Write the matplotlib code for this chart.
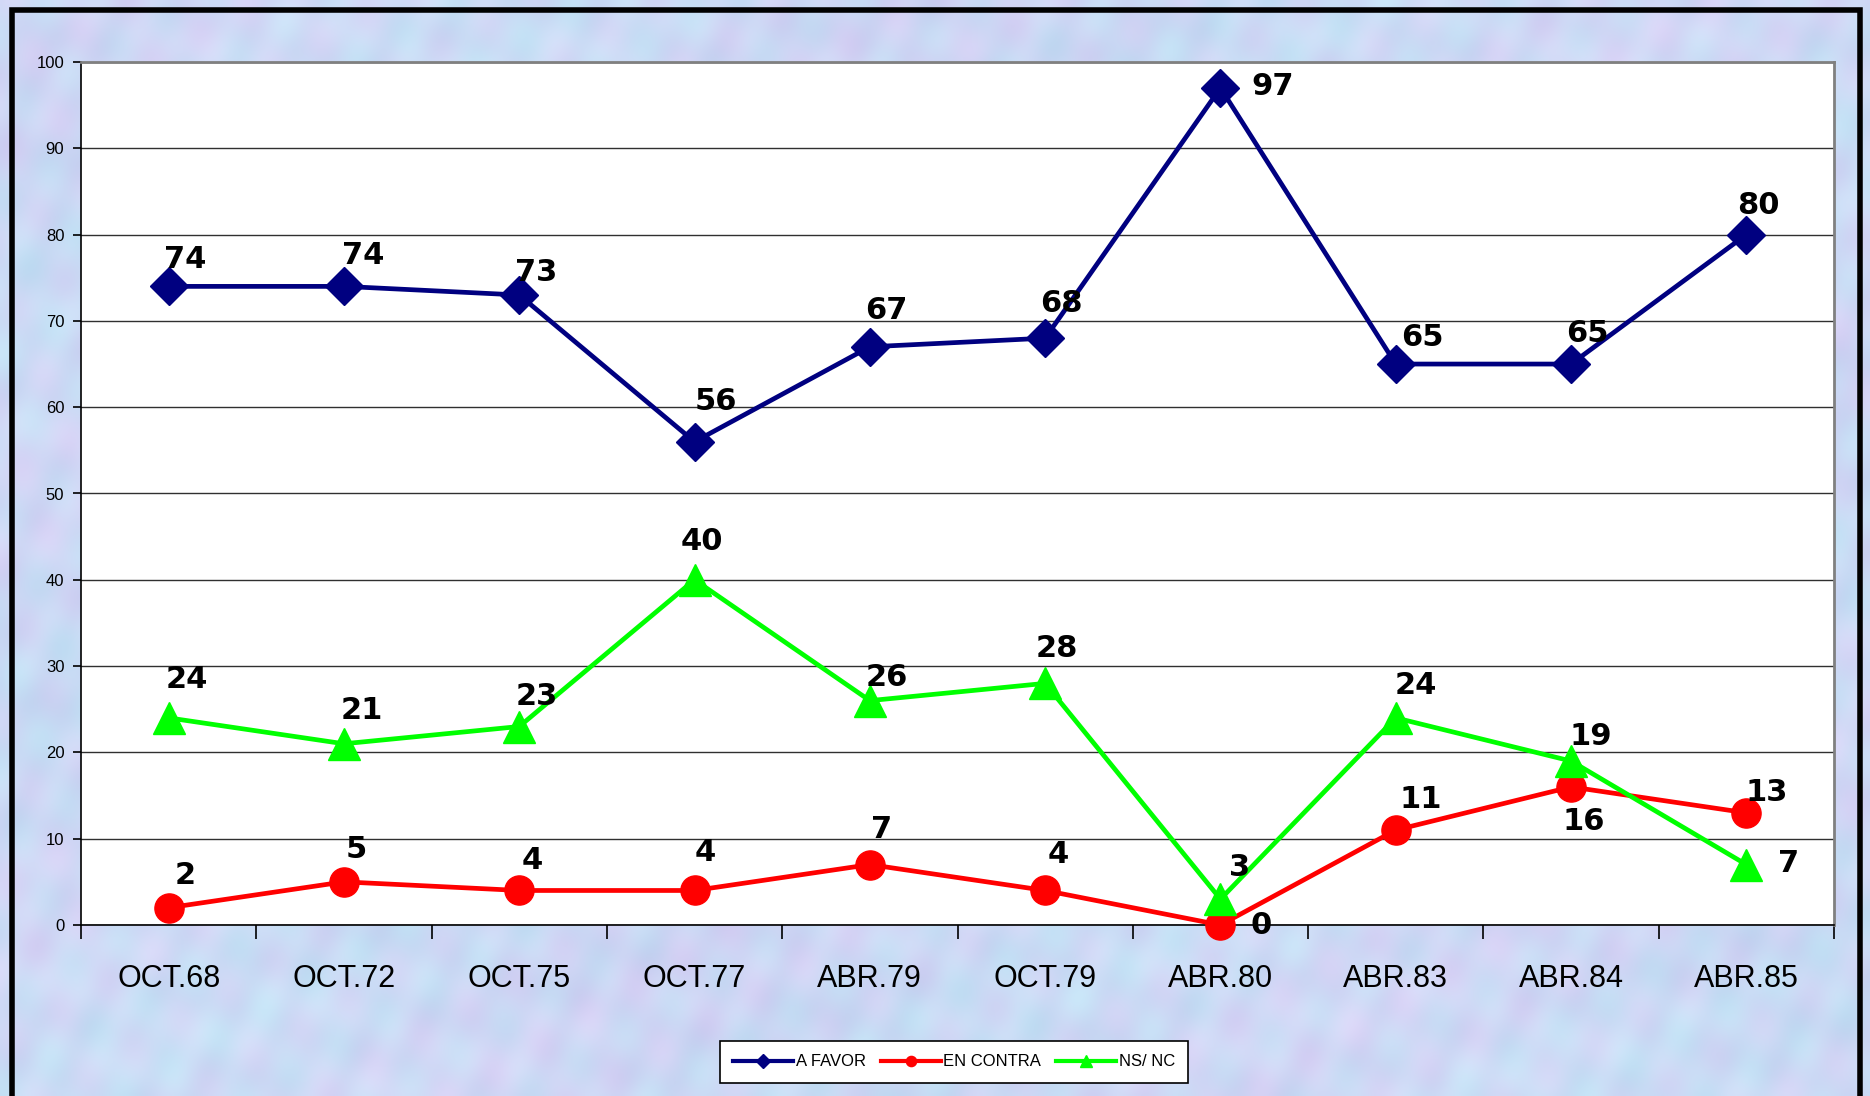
import numpy as np
import matplotlib
matplotlib.use("Agg")
import matplotlib.pyplot as plt
from matplotlib.patches import Rectangle

categories = ["OCT.68", "OCT.72", "OCT.75", "OCT.77", "ABR.79", "OCT.79",
              "ABR.80", "ABR.83", "ABR.84", "ABR.85"]
a_favor = [74, 74, 73, 56, 67, 68, 97, 65, 65, 80]
en_contra = [2, 5, 4, 4, 7, 4, 0, 11, 16, 13]
ns_nc = [24, 21, 23, 40, 26, 28, 3, 24, 19, 7]
series_names = ["A FAVOR", "EN CONTRA", "NS/ NC"]
y_ticks = [0, 10, 20, 30, 40, 50, 60, 70, 80, 90, 100]

# label offsets in pixels (dx, dy upward positive)
off_favor = [(17, 27), (19, 31), (17, 23), (21, 40), (16, 36), (16, 35), (52, 1), (27, 27), (16, 31), (12, 29)]
off_contra = [(17, 32), (12, 32), (13, 30), (11, 38), (12, 35), (13, 36), (41, 0), (25, 31), (13, -35), (20, 20)]
off_ns = [(18, 38), (18, 33), (17, 30), (7, 38), (17, 23), (12, 35), (19, 32), (20, 32), (20, 25), (42, 1)]

plt.rcParams['font.family'] = ['Liberation Sans', 'DejaVu Sans']

W, H = 1870, 1096
fig = plt.figure(figsize=(W / 100, H / 100), dpi=100)

# mottled light-blue background texture (deterministic)
bg = fig.add_axes([0, 0, 1, 1], zorder=-10)
yy, xx = np.mgrid[0:H // 4, 0:W // 4].astype(float)
t = (np.sin(xx * 0.37 + yy * 0.11) + np.sin(xx * 0.13 - yy * 0.41) +
     np.sin(xx * 0.071 + yy * 0.23 + 1.3) + np.sin(xx * 0.53 + yy * 0.29 + 0.7) +
     np.sin(xx * 0.021 - yy * 0.047)) / 5.0
t2 = (np.sin(xx * 0.19 + yy * 0.31 + 2.1) + np.sin(xx * 0.43 - yy * 0.17 + 0.4) +
      np.sin(xx * 0.033 + yy * 0.061)) / 3.0
base = np.array([0.80, 0.85, 0.96])
img = np.empty(t.shape + (3,))
img[..., 0] = base[0] + 0.035 * t + 0.035 * t2
img[..., 1] = base[1] + 0.035 * t - 0.03 * t2
img[..., 2] = base[2] + 0.02 * t
img = np.clip(img, 0, 1)
bg.imshow(img, aspect='auto', interpolation='bilinear', extent=[0, 1, 0, 1])
bg.set_axis_off()

# black frame
fig.patches.append(Rectangle((12 / W, -0.05), (1860 - 12) / W, 1.05 - 10 / H,
                             transform=fig.transFigure, fill=False,
                             edgecolor='black', linewidth=4, zorder=5))

left, right, top, bottom = 81, 1834, 62, 925
ax = fig.add_axes([left / W, (H - bottom) / H, (right - left) / W, (bottom - top) / H])
ax.set_facecolor('white')

x = np.arange(len(categories))
l1, = ax.plot(x, a_favor, color='#000080', lw=3.4, marker='D', ms=19, zorder=3, clip_on=False)
l2, = ax.plot(x, en_contra, color='#FF0000', lw=3.4, marker='o', ms=21, zorder=4, clip_on=False)
l3, = ax.plot(x, ns_nc, color='#00FF00', lw=3.4, marker='^', ms=23, zorder=5, clip_on=False)

for vals, offs in ((a_favor, off_favor), (en_contra, off_contra), (ns_nc, off_ns)):
    for xi, v, (dx, dy) in zip(x, vals, offs):
        ax.annotate(str(v), (xi, v), xytext=(dx, dy), textcoords='offset pixels',
                    ha='center', va='center', fontsize=22, fontweight='bold',
                    family=['DejaVu Sans'], color='black', zorder=10,
                    annotation_clip=False)

ax.set_xlim(-0.5, len(categories) - 0.5)
ax.set_ylim(0, 100)
ax.set_yticks(y_ticks)
ax.set_yticklabels([str(v) for v in y_ticks], fontsize=12)
ax.set_xticks(np.arange(-0.5, len(categories) + 0.5, 1))
ax.set_xticklabels([])
ax.set_xticks(x, minor=True)
ax.set_xticklabels(categories, minor=True, fontsize=22)
ax.tick_params(axis='x', which='major', direction='out', length=10, width=1.2, color='black')
ax.tick_params(axis='x', which='minor', length=0, pad=28)
ax.tick_params(axis='y', direction='out', length=6, width=1.2, color='black', pad=6)
ax.grid(axis='y', color='#303030', linewidth=1)
ax.set_axisbelow(True)
for s in ('top', 'right'):
    ax.spines[s].set_color('#808080')
    ax.spines[s].set_linewidth(2)
for s in ('left', 'bottom'):
    ax.spines[s].set_color('black')
    ax.spines[s].set_linewidth(1.2)

leg = fig.legend([l1, l2, l3], series_names, loc='center', ncol=3,
                 bbox_to_anchor=(954 / W, 34 / H), fontsize=12, frameon=True,
                 fancybox=False, edgecolor='black', framealpha=1, handlelength=3.6,
                 columnspacing=0.9, handletextpad=0.15, borderpad=0.8, markerscale=0.35)
leg.get_frame().set_linewidth(1.2)
for h in leg.legend_handles:
    h.set_linewidth(3)

fig.savefig('out.png', dpi=100)
